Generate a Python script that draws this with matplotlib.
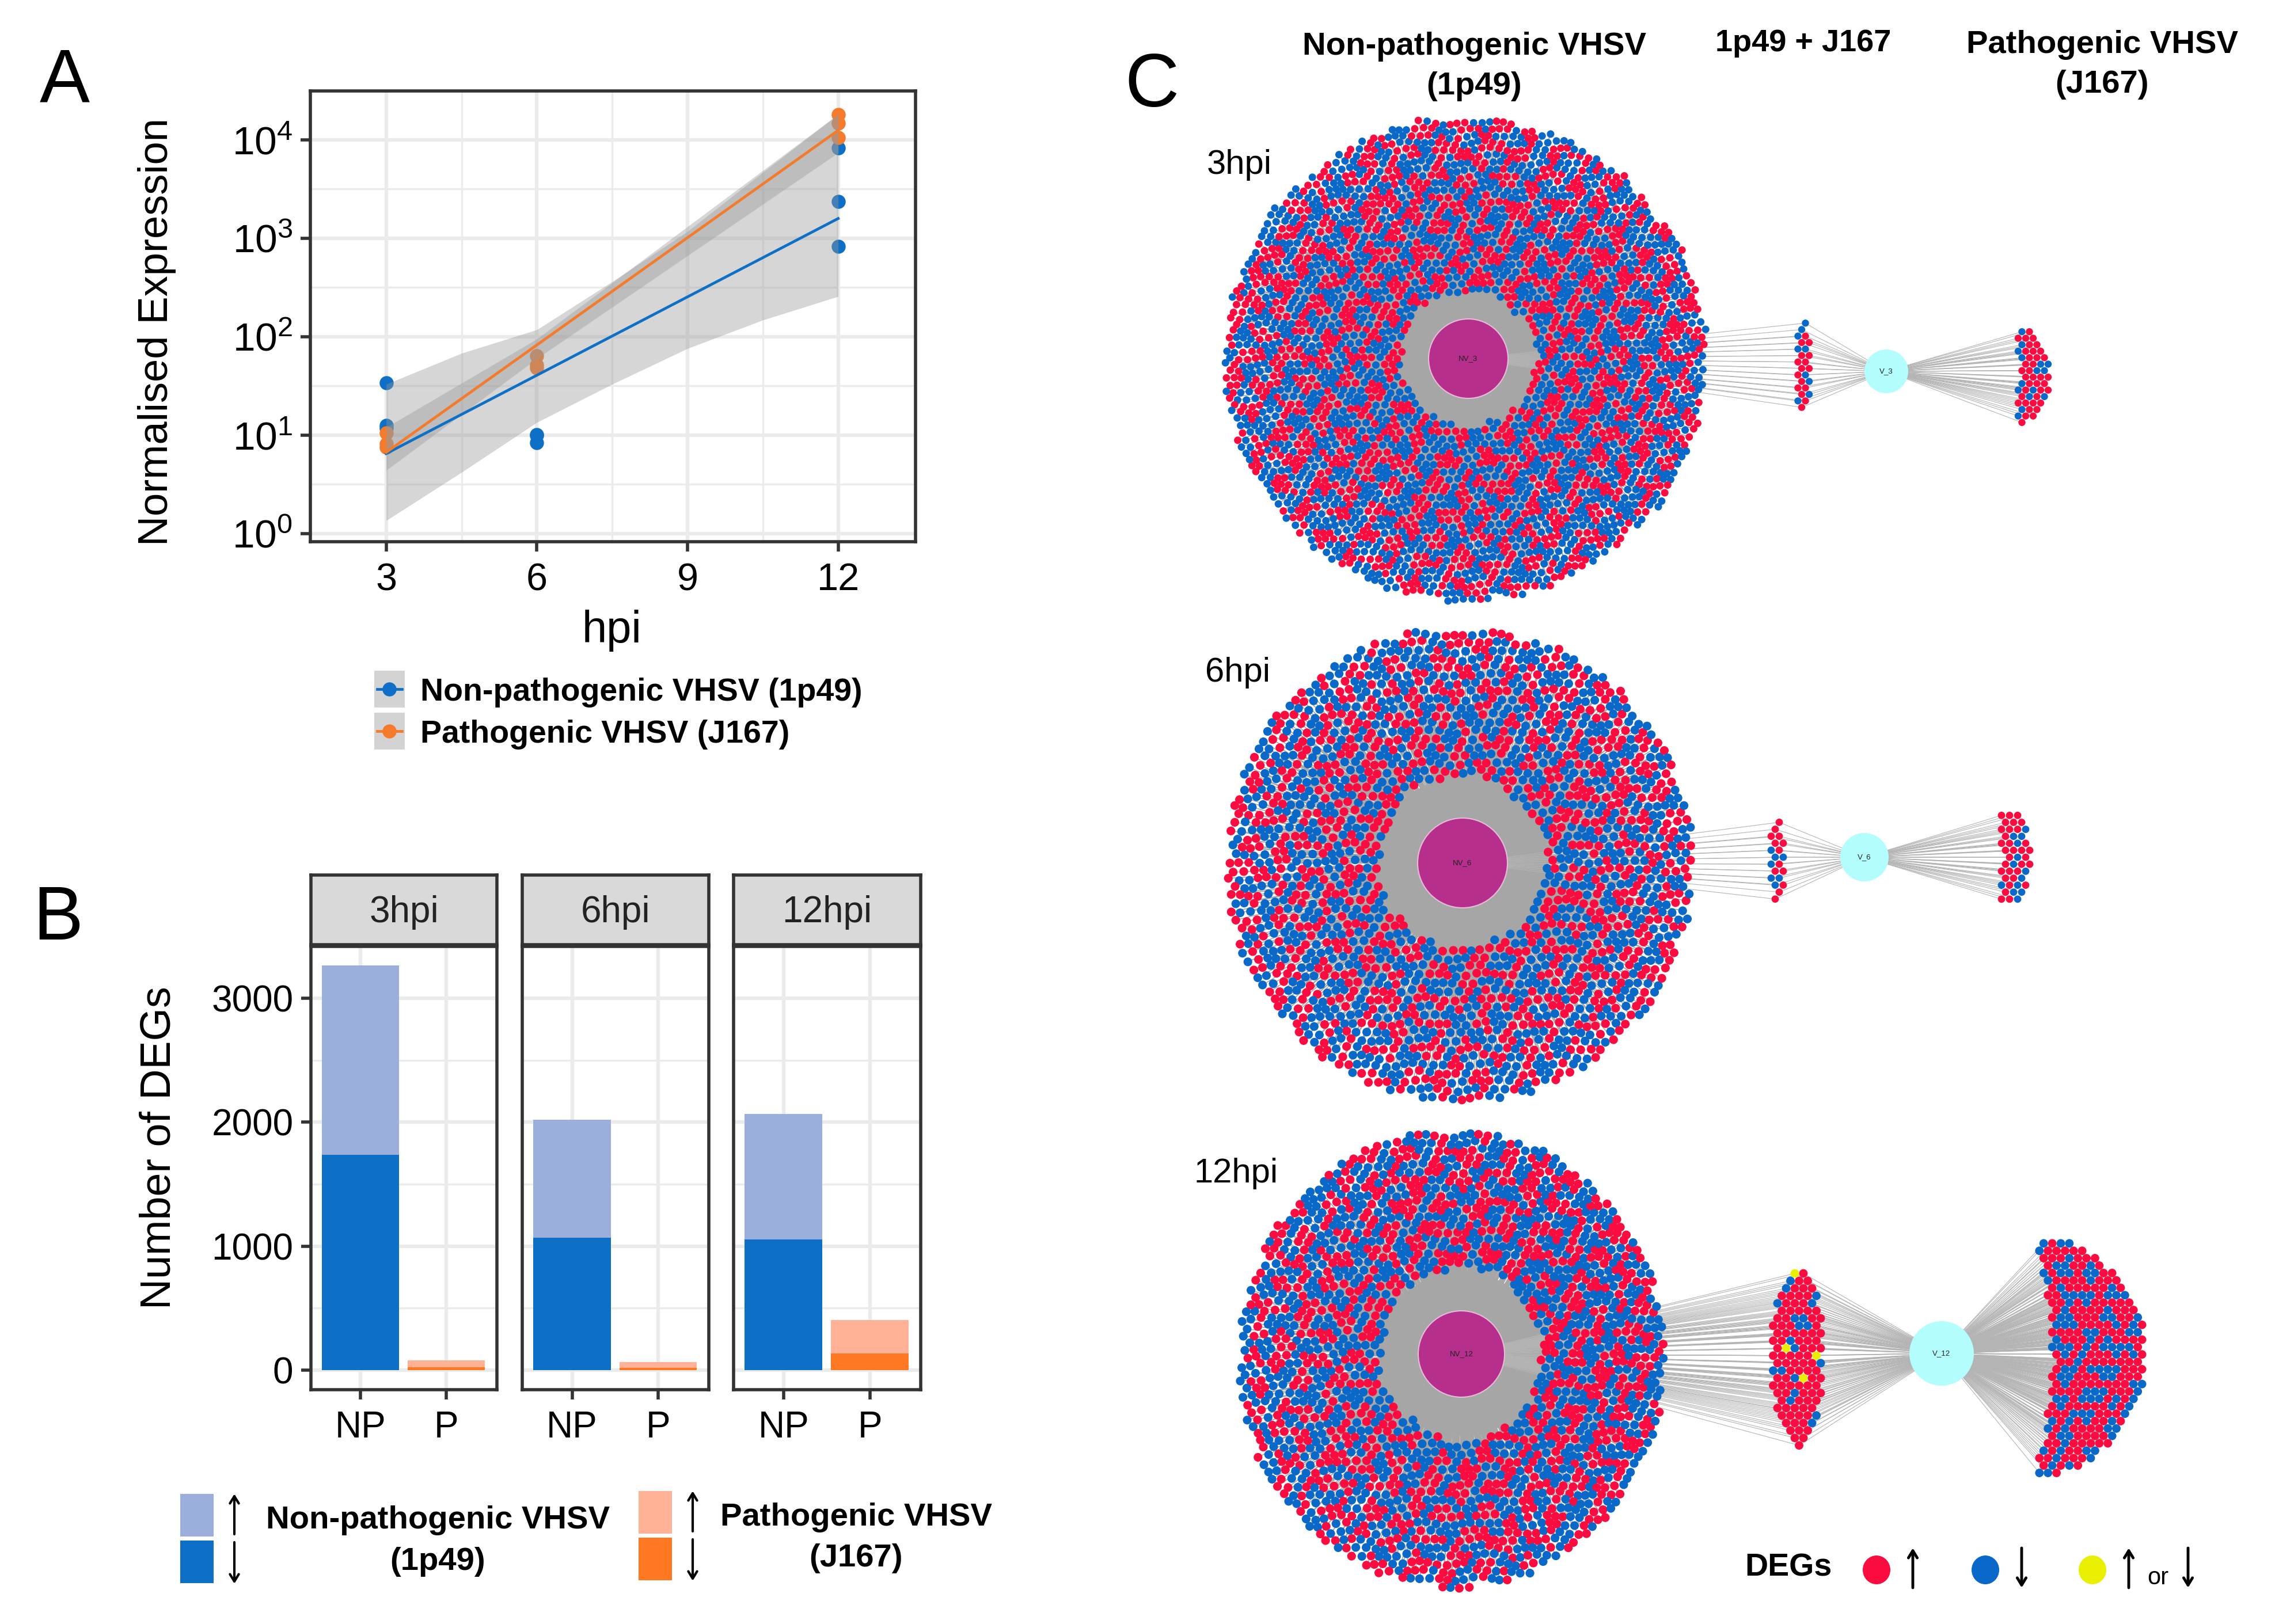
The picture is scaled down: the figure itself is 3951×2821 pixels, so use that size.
import numpy as np
import matplotlib
matplotlib.use("Agg")
import matplotlib.pyplot as plt
from matplotlib.collections import LineCollection
from matplotlib.patches import Circle, Ellipse, Rectangle

plt.rcParams['font.family'] = ['Liberation Sans', 'DejaVu Sans']
plt.rcParams['mathtext.default'] = 'regular'

W, H = 3951, 2821

# panel A
hours_obs = [3, 3, 3, 6, 6, 6, 12, 12, 12]
np_expr = [34, 12.5, 11.7, 10.2, 10, 8.4, 8270, 2370, 830]
p_expr = [10.5, 8.2, 7.5, 64, 52, 48, 18000, 14800, 10600]
fit_hours = [3, 12]
np_fit = [6.5, 1590]
p_fit = [6.7, 12500]
band_hours = [3, 4.5, 6, 7.5, 9, 10.5, 12]
np_band_hi = [33, 68, 118, 363, 1175, 4680, 18200]
np_band_lo = [1.36, 4.2, 13.5, 33, 76, 148, 257]
band2_hours = [3, 6, 12]
p_band_hi = [12, 95, 18200]
p_band_lo = [4.4, 60, 7400]

# panel B
facets = ['3hpi', '6hpi', '12hpi']
np_down = [1738, 1068, 1052]
np_up = [1526, 954, 1015]
p_down = [24, 20, 134]
p_up = [53, 45, 268]

# panel C: genes shared by both viruses
shared = [25, 20, 115]
shared_up = [16, 13, 92]
shared_either = [0, 0, 4]

BLUE = '#0d6fc6'
ORANGE = '#f47a2c'
LBLUE = '#9bafdd'
DBLUE = '#0d6fc6'
LORANGE = '#ffb295'
DORANGE = '#ff7720'
RED = '#fb0c40'
NODE_BLUE = '#0a68c9'
YELLOW = '#e8f000'
FRAME = '#333333'

fig = plt.figure(figsize=(W / 100, H / 100), dpi=100, facecolor='white')


def px_axes(left, top, right, bottom):
    return fig.add_axes([left / W, 1 - bottom / H, (right - left) / W, (bottom - top) / H])


def style_axes(ax):
    ax.set_axisbelow(True)
    for s in ax.spines.values():
        s.set_color(FRAME)
        s.set_linewidth(4)
    ax.tick_params(which='major', length=12, width=4, color=FRAME, labelsize=46, labelcolor='black', pad=10)
    ax.tick_params(which='minor', length=0)
    ax.grid(which='major', color='#ebebeb', lw=4.5)
    ax.grid(which='minor', color='#ebebeb', lw=2.4)


# ---- panel A
ax = px_axes(539, 158, 1590, 941)
ax.set_yscale('log')
ax.scatter(hours_obs, np_expr, s=310, color=BLUE, lw=0, zorder=2)
ax.scatter(hours_obs, p_expr, s=310, color=ORANGE, lw=0, zorder=2)
ax.fill_between(band_hours, np_band_lo, np_band_hi, color='#999999', alpha=0.4, lw=0, zorder=3)
ax.fill_between(band2_hours, p_band_lo, p_band_hi, color='#999999', alpha=0.4, lw=0, zorder=3)
ax.plot(fit_hours, np_fit, color=BLUE, lw=3.4, zorder=4)
ax.plot(fit_hours, p_fit, color=ORANGE, lw=3.4, zorder=4)
ax.set_xlim(1.49, 13.54)
ax.set_ylim(10 ** -0.082, 10 ** 4.497)
ax.set_xticks([3, 6, 9, 12])
ax.set_xticks([4.5, 7.5, 10.5], minor=True)
ax.set_yticks([1, 10, 100, 1000, 10000],
              ['$10^{0}$', '$10^{1}$', '$10^{2}$', '$10^{3}$', '$10^{4}$'])
ax.set_yticks([10 ** 0.5, 10 ** 1.5, 10 ** 2.5, 10 ** 3.5], minor=True)
ax.set_yticklabels([], minor=True)
style_axes(ax)
ax.tick_params(axis='y', labelsize=50)
ax.tick_params(axis='x', labelsize=48, pad=14)

# ---- panel B
boxes = [(540, 863), (907, 1231), (1274, 1599)]
for k in range(3):
    ax = px_axes(boxes[k][0], 1644, boxes[k][1], 2414)
    ax.bar([1], [np_down[k]], width=0.9, color=DBLUE, zorder=2)
    ax.bar([1], [np_up[k]], width=0.9, bottom=[np_down[k]], color=LBLUE, zorder=2)
    ax.bar([2], [p_down[k]], width=0.9, color=DORANGE, zorder=2)
    ax.bar([2], [p_up[k]], width=0.9, bottom=[p_down[k]], color=LORANGE, zorder=2)
    ax.set_xlim(0.42, 2.59)
    ax.set_ylim(-158, 3418)
    ax.set_xticks([1, 2], ['NP', 'P'])
    ax.set_yticks([0, 1000, 2000, 3000])
    ax.set_yticks([500, 1500, 2500], minor=True)
    style_axes(ax)
    ax.tick_params(axis='x', pad=14)
    if k > 0:
        ax.tick_params(axis='y', length=0, labelleft=False)
    strip = px_axes(boxes[k][0], 1520, boxes[k][1], 1641)
    strip.set_facecolor('#d9d9d9')
    strip.set_xticks([])
    strip.set_yticks([])
    for s in strip.spines.values():
        s.set_color(FRAME)
        s.set_linewidth(4)
    strip.text(0.5, 0.46, facets[k], transform=strip.transAxes, ha='center', va='center', fontsize=46, color='#222222')

# ---- everything else is drawn in figure pixels
ov = fig.add_axes([0, 0, 1, 1], zorder=5)
ov.set_xlim(0, W)
ov.set_ylim(H, 0)
ov.axis('off')
ov.patch.set_alpha(0)


def label(x, y, s, size, **kw):
    ov.text(x, y, s, fontsize=size, ha=kw.pop('ha', 'center'), va='center', color='black', **kw)


def arrow(x, y0, y1, lw=3):
    ov.annotate('', xy=(x, y1), xytext=(x, y0),
                arrowprops=dict(arrowstyle='->,head_length=0.9,head_width=0.55', lw=lw, color='black',
                                shrinkA=0, shrinkB=0))


label(112, 143, 'A', 94)
label(101, 1598, 'B', 94)
label(2000, 151, 'C', 94)
label(273, 576, 'Normalised Expression', 52, rotation=90)
label(1063, 1095, 'hpi', 56)
label(276, 1994, 'Number of DEGs', 53, rotation=90)

# legend A
for y, c, s in [(1197, BLUE, 'Non-pathogenic VHSV (1p49)'), (1270, ORANGE, 'Pathogenic VHSV (J167)')]:
    ov.add_patch(Rectangle((650, y - 32), 53, 64, color='#d3d3d3', lw=0))
    ov.plot([655, 698], [y, y], color=c, lw=3.4)
    ov.scatter([676], [y], s=310, color=c, lw=0, zorder=3)
    label(730, y + 6, s, 40, ha='left', fontweight='bold')

# legend B
for x, yy, c1, c2 in [(313, 2595, LBLUE, DBLUE), (1109, 2590, LORANGE, DORANGE)]:
    ov.add_patch(Rectangle((x, yy), 58, 74, color=c1, lw=0))
    ov.add_patch(Rectangle((x, yy + 81), 58, 74, color=c2, lw=0))
    ax_x = x + 94
    arrow(ax_x, yy + 70, yy)
    arrow(ax_x, yy + 84, yy + 156)
label(760, 2641, 'Non-pathogenic VHSV', 40.5, fontweight='bold')
label(760, 2713, '(1p49)', 40.5, fontweight='bold')
label(1487, 2636, 'Pathogenic VHSV', 40.5, fontweight='bold')
label(1487, 2707, '(J167)', 40.5, fontweight='bold')

# panel C headers
label(2560, 81, 'Non-pathogenic VHSV', 40.5, fontweight='bold')
label(2560, 150, '(1p49)', 40.5, fontweight='bold')
label(3132, 75, '1p49 + J167', 39, fontweight='bold')
label(3651, 78, 'Pathogenic VHSV', 40.5, fontweight='bold')
label(3651, 147, '(J167)', 40.5, fontweight='bold')
label(2152, 286, '3hpi', 43)
label(2150, 1168, '6hpi', 43)
label(2147, 2038, '12hpi', 43)


def hex_fill(n, score, box, spacing):
    # shrink a hex grid until n sites fall inside, then keep the n most central
    while True:
        xs = np.arange(box[0], box[1], spacing)
        ys = np.arange(box[2], box[3], spacing * np.sqrt(3) / 2)
        gx, gy = np.meshgrid(xs, ys)
        gx = gx + (np.arange(len(ys))[:, None] % 2) * spacing / 2
        gx, gy = gx.ravel(), gy.ravel()
        sc = score(gx, gy)
        if (sc < 1).sum() >= n:
            keep = np.argsort(sc)[:n]
            return gx[keep], gy[keep]
        spacing *= 0.99


def ring_nodes(n, hub, outer, rx, ry, hole):
    def score(x, y):
        r = np.hypot((x - hub[0]) / rx, (y - hub[1]) / ry)
        return np.where(r < hole, 9, r)
    x, y = hex_fill(n, score, (hub[0] - rx, hub[0] + rx, hub[1] - ry, hub[1] + ry), 18)
    # loosen the rows so the rings do not look like a lattice
    x2 = x + 2.6 * np.sin(y / 23 + 1.3) + 2.0 * np.sin((x + y) / 13)
    y2 = y + 2.6 * np.sin(x / 19 + 0.4) + 2.0 * np.sin((x - y) / 11)
    f = (np.hypot((x - hub[0]) / rx, (y - hub[1]) / ry) - hole) / (1 - hole)
    return x2 + (outer[0] - hub[0]) * f, y2 + (outer[1] - hub[1]) * f


def oval_nodes(n, cx, cy, w, h, spacing):
    def score(x, y):
        return np.hypot((x - cx) / w, (y - cy) / h)
    return hex_fill(n, score, (cx - w, cx + w, cy - h, cy + h), spacing)


def lens_nodes(n, x0, yc, h, inner, outer, spacing):
    # left edge bends by "inner", right edge bulges by "outer"
    def score(x, y):
        v = np.clip((y - yc) / h, -0.999, 0.999)
        left = x0 + inner * (1 - v ** 2)
        right = x0 + outer * np.sqrt(1 - v ** 2)
        mid = (left + right) / 2
        half = np.maximum((right - left) / 2, 1)
        return np.maximum(np.abs((y - yc) / h), np.abs(x - mid) / half)
    return hex_fill(n, score, (x0 - 5, x0 + outer + 5, yc - h, yc + h), spacing)


def node_colors(x, y, n_up, n_either=0):
    # patchy mix from the node position, exact number of up / down / either genes
    patch = (np.sin(x / 10.3 + y / 17.1) + np.sin(x / 14.7 - y / 7.9 + 1)
             + 0.7 * np.sin(x / 6.3 + 0.7) + 0.7 * np.sin(y / 7.1 + 2)
             + 0.8 * np.sin((x * 0.83 + y * 0.57) / 3.7))
    order = np.argsort(-patch)
    cols = np.array([NODE_BLUE] * len(x), dtype=object)
    cols[order[:n_up]] = RED
    if n_either:
        cols[order[n_up:n_up + n_either]] = YELLOW
    return list(cols)


def fan(hub, xs, ys, color='#b4b4b4', lw=0.8, alpha=1.0):
    segs = [[hub, (a, b)] for a, b in zip(xs, ys)]
    ov.add_collection(LineCollection(segs, colors=color, linewidths=lw, alpha=alpha, zorder=1))


nv_hubs = [(2550, 623), (2540, 1499), (2538, 2352)]
nv_outer = [(2545, 624), (2535, 1502), (2522, 2360)]
nv_rad = [(421, 422), (406, 413), (372, 400)]
nv_hole = [117 / 421, 147 / 410, 146 / 390]
nv_hub_r = [69, 78, 75]
v_hubs = [(3276, 645), (3238, 1489), (3372, 2351)]
v_hub_r = [38, 42, 56]
mid_geo = [(3133, 638, 17, 88, 13), (3087, 1497, 18, 105, 14), (3122, 2356, 50, 170, 15)]
right_geo = [(3497, 653, 88, 6, 68, 13), (3460, 1490, 110, 6, 78, 14), (3532, 2355, 208, 32, 195, 15)]
big_size = [88, 120, 120]
small_size = [80, 85, 115]

for k in range(3):
    n_big = np_down[k] + np_up[k] - shared[k]
    bx, by = ring_nodes(n_big, nv_hubs[k], nv_outer[k], nv_rad[k][0], nv_rad[k][1], nv_hole[k])
    fan(nv_hubs[k], bx, by, color='#a6a6a6', lw=1.1)
    ov.add_patch(Circle(nv_hubs[k], nv_hole[k] * nv_rad[k][0] + 4, facecolor='#a6a6a6', edgecolor='none', zorder=1))
    mx, my = oval_nodes(shared[k], *mid_geo[k])
    n_right = p_down[k] + p_up[k] - shared[k]
    rx, ry = lens_nodes(n_right, *right_geo[k])
    fan(nv_hubs[k], mx, my)
    fan(v_hubs[k], mx, my)
    fan(v_hubs[k], rx, ry)
    ov.scatter(bx, by, s=big_size[k], c=node_colors(bx, by, np_up[k] - shared_up[k]), lw=0, zorder=2)
    ov.scatter(mx, my, s=small_size[k], c=node_colors(mx, my, shared_up[k], shared_either[k]), lw=0, zorder=2)
    ov.scatter(rx, ry, s=small_size[k], c=node_colors(rx, ry, p_up[k] - shared_up[k]), lw=0, zorder=2)
    ov.add_patch(Circle(nv_hubs[k], nv_hub_r[k], facecolor='#b72f8c', edgecolor='#e6bcd8', lw=1.5, zorder=3))
    ov.add_patch(Circle(v_hubs[k], v_hub_r[k], facecolor='#b3fdff', edgecolor='none', zorder=3))
    ov.text(nv_hubs[k][0], nv_hubs[k][1], 'NV_' + facets[k].replace('hpi', ''), fontsize=9.5,
            ha='center', va='center', color='#222222', zorder=4)
    ov.text(v_hubs[k][0], v_hubs[k][1], 'V_' + facets[k].replace('hpi', ''), fontsize=9.5,
            ha='center', va='center', color='#222222', zorder=4)

# legend C
label(3106, 2723, 'DEGs', 40, fontweight='bold')
for x, c in [(3259, RED), (3448, NODE_BLUE), (3634, YELLOW)]:
    ov.add_patch(Ellipse((x, 2727), 48, 50, facecolor=c, edgecolor='none'))
arrow(3322, 2758, 2689, lw=3.5)
arrow(3511, 2689, 2758, lw=3.5)
arrow(3697, 2758, 2689, lw=3.5)
label(3748, 2741, 'or', 30)
arrow(3800, 2689, 2758, lw=3.5)

fig.savefig('out.png', dpi=100)
